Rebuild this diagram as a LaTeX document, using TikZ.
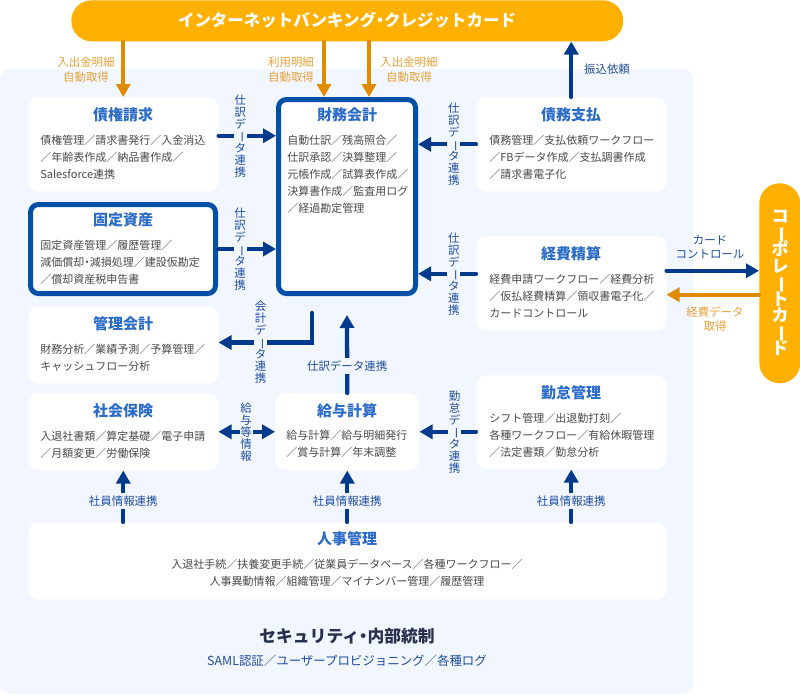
\documentclass[tikz,border=0pt]{standalone}
\usepackage{fontspec}
\setmainfont{Noto Sans CJK JP}
\usetikzlibrary{arrows.meta}
\definecolor{panelbg}{HTML}{F2F6FE}
\definecolor{hardorange}{HTML}{FFB000}
\definecolor{darkorange}{HTML}{DF8C00}
\definecolor{softorange}{HTML}{E6A23C}
\definecolor{flowblue}{HTML}{003A8C}
\definecolor{labelblue}{HTML}{1E4FA0}
\definecolor{titleblue}{HTML}{2A6CC8}
\definecolor{framedblue}{HTML}{0050A8}
\definecolor{bodygray}{HTML}{4A4A4A}
\definecolor{headdark}{HTML}{2A3050}
\newcommand{\vbar}{\smash{\raisebox{.38em}{\rotatebox[origin=c]{-90}{\raisebox{-.38em}{ー}}}}}
\newcommand{\dotmid}{\kern-.25em・\kern-.25em}
\tikzset{
  every node/.style={inner sep=0pt},
  card/.style={fill=white,rounded corners=7.5pt,anchor=north west,minimum width=142.5pt},
  framed/.style={draw=framedblue,line width=3.75pt,fill=white,rounded corners=6pt,anchor=north west},
  pill/.style={fill=hardorange,rounded corners=15.3pt},
  head/.style={font=\bfseries\fontsize{11.25}{13}\selectfont,text=titleblue},
  body/.style={font=\fontsize{8.25}{12.75}\selectfont,text=bodygray,align=left,anchor=west},
  vlabel/.style={font=\fontsize{8.6}{9}\selectfont,text=labelblue,align=center,fill=panelbg,minimum width=9.75pt},
  hlabel/.style={font=\fontsize{8.6}{11}\selectfont,text=labelblue,align=center,fill=panelbg,minimum height=12pt},
  olabel/.style={font=\fontsize{8.6}{11}\selectfont,text=softorange,align=center},
  flow/.style={draw=flowblue,line width=3.2pt,line cap=round,-{Triangle[length=9.75pt,width=10.5pt]}},
  twoway/.style={flow,{Triangle[length=9.75pt,width=10.5pt]}-{Triangle[length=9.75pt,width=10.5pt]}},
  oflow/.style={flow,draw=darkorange},
}
\begin{document}
\begin{tikzpicture}[x=0.75pt,y=-0.75pt]
  \useasboundingbox (0,0) rectangle (800,694);
  % background
  \fill[panelbg,rounded corners=7.5pt] (0,69) rectangle (693,694);
  \node[pill,minimum width=414pt,minimum height=30.75pt,anchor=north west] (bank) at (71,0) {};
  \node[pill,minimum width=30.75pt,minimum height=150pt,anchor=north west] (corp) at (759,183) {};
  \node[font=\bfseries\fontsize{12.35}{15}\selectfont,text=white] (bankT) at (347,20) {インターネットバンキング\dotmid クレジットカード};
  \node[font=\bfseries\fontsize{12.75}{12.4}\selectfont,text=white,align=center] (corpT) at (780,283) {コ\\\vbar\\ポ\\レ\\\vbar\\ト\\カ\\\vbar\\ド};
  % cards, left
  \node[card,minimum height=70.5pt] (saiken) at (28,97) {};
  \node[head] (saikenT) at (123,115) {債権請求};
  \node[body] (saikenB) at (40,157) {債権管理／請求書発行／入金消込\\／年齢表作成／納品書作成／\\Salesforce連携};
  \node[framed,minimum width=138.75pt,minimum height=66.75pt] (kotei) at (28,202) {};
  \node[head] (koteiT) at (123,220) {固定資産};
  \node[body] (koteiB) at (40,262) {固定資産管理／履歴管理／\\減価償却\dotmid 減損処理／建設仮勘定\\／償却資産税申告書};
  \node[card,minimum height=57.75pt] (kanri) at (28,306) {};
  \node[head] (kanriT) at (123,324) {管理会計};
  \node[body] (kanriB) at (40,357.5) {財務分析／業績予測／予算管理／\\キャッシュフロー分析};
  \node[card,minimum height=57.75pt] (shakai) at (28,393) {};
  \node[head] (shakaiT) at (123,411) {社会保険};
  \node[body] (shakaiB) at (40,444.5) {入退社書類／算定基礎／電子申請\\／月額変更／労働保険};
  % cards, middle
  \node[framed,minimum width=102.75pt,minimum height=145.5pt] (zaimu) at (276,97) {};
  \node[head] (zaimuT) at (347,115) {財務会計};
  \node[body] (zaimuB) at (287,174) {自動仕訳／残高照合／\\仕訳承認／決算整理／\\元帳作成／試算表作成／\\決算書作成／監査用ログ\\／経過勘定管理};
  \node[card,minimum width=108pt,minimum height=57.75pt] (kyuyo) at (275,393) {};
  \node[head] (kyuyoT) at (347,411) {給与計算};
  \node[body] (kyuyoB) at (286,443.5) {給与計算／給与明細発行\\／賞与計算／年末調整};
  % cards, right
  \node[card,minimum height=70.5pt] (saimu) at (476,97) {};
  \node[head] (saimuT) at (571,115) {債務支払};
  \node[body] (saimuB) at (489,157) {債務管理／支払依頼ワークフロー\\／FBデータ作成／支払調書作成\\／請求書電子化};
  \node[card,minimum height=70.5pt] (keihi) at (476,236) {};
  \node[head] (keihiT) at (571,254) {経費精算};
  \node[body] (keihiB) at (489,296) {経費申請ワークフロー／経費分析\\／仮払経費精算／領収書電子化／\\カードコントロール};
  \node[card,minimum height=70.5pt] (kintai) at (476,375) {};
  \node[head] (kintaiT) at (571,393) {勤怠管理};
  \node[body] (kintaiB) at (489,435) {シフト管理／出退勤打刻／\\各種ワークフロー／有給休暇管理\\／法定書類／勤怠分析};
  % bottom
  \node[card,minimum width=478.5pt,minimum height=57.75pt] (jinji) at (28,522) {};
  \node[head] (jinjiT) at (347,539) {人事管理};
  \node[body,align=center,anchor=center] (jinjiB) at (347,572.5) {入退社手続／扶養変更手続／従業員データベース／各種ワークフロー／\\人事異動情報／組織管理／マイナンバー管理／履歴管理};
  \node[font=\bfseries\fontsize{12.6}{15}\selectfont,text=headdark] (secT) at (347,636) {セキュリティ\dotmid 内部統制};
  \node[font=\fontsize{9.33}{11}\selectfont,text=labelblue] (secB) at (347,661) {SAML認証／ユーザープロビジョニング／各種ログ};
  % orange arrows
  \coordinate (zaimuL) at ([xshift=-17.25pt]zaimu.north);
  \coordinate (zaimuR) at ([xshift=16.5pt]zaimu.north);
  \draw[oflow] (saiken.north |- bank.south) -- (saiken.north);
  \draw[oflow] (zaimuL |- bank.south) -- (zaimuL);
  \draw[oflow] (zaimuR |- bank.south) -- (zaimuR);
  \draw[oflow] ([yshift=-8.6pt]corp.west) coordinate (p1) -- (p1 -| keihi.east);
  \node[olabel] (inL) at (86,69.5) {入出金明細\\自動取得};
  \node[olabel] (useL) at (291,69.5) {利用明細\\自動取得};
  \node[olabel] (inR) at (409,69.5) {入出金明細\\自動取得};
  \node[olabel] (expL) at (715,319) {経費データ\\取得};
  % blue arrows
  \draw[flow] (saimu.north) -- (saimu.north |- bank.south);
  \node[font=\fontsize{8.6}{11}\selectfont,text=labelblue] (furiL) at (607,69) {振込依頼};
  \draw[flow] ([yshift=6.4pt]saiken.east) coordinate (p2) -- node[vlabel,pos=.38] (l2) {仕\\訳\\デ\\\vbar\\タ\\連\\携} (p2 -| zaimu.west);
  \draw[flow] (kotei.east) coordinate (p3) -- node[vlabel,pos=.38] (l3) {仕\\訳\\デ\\\vbar\\タ\\連\\携} (p3 -| zaimu.west);
  \draw[flow] (saimu.west) coordinate (p4) -- node[vlabel,pos=.38] (l4) {仕\\訳\\デ\\\vbar\\タ\\連\\携} (p4 -| zaimu.east);
  \draw[flow] ([yshift=7.1pt]keihi.west) coordinate (p5) -- node[vlabel,pos=.38] (l5) {仕\\訳\\デ\\\vbar\\タ\\連\\携} (p5 -| zaimu.east);
  \draw[flow] (kintai.west |- kyuyo.east) -- node[vlabel,pos=.38] (l6) {勤\\怠\\デ\\\vbar\\タ\\連\\携} (kyuyo.east);
  % from the ledger down to management accounting
  \coordinate (kanriIn) at (312,313);
  \draw[flow] (kanriIn) -- ++(0,29.5) coordinate (p7) -- node[vlabel,pos=.55] (l7) {会\\計\\デ\\\vbar\\タ\\連\\携} (p7 -| kanri.east);
  % payroll
  \coordinate (zaimuIn) at (347,315);
  \draw[flow] (kyuyo.north) -- node[hlabel,pos=.34] (l8) {仕訳データ連携} (zaimuIn);
  \draw[twoway] (shakai.east) -- node[vlabel,pos=.49] (l9) {給\\与\\等\\情\\報} (kyuyo.west);
  % personnel
  \foreach \target/\n in {shakai/1,kyuyo/2,kintai/3} {%
    \draw[flow] (jinji.north -| \target.south) -- node[hlabel,pos=.4] (staff\n) {社員情報連携} (\target.south);
  }
  % corporate card
  \draw[flow] ([yshift=9.4pt]keihi.east) coordinate (p10) -- (p10 -| corp.west);
  \node[font=\fontsize{8.6}{11}\selectfont,text=labelblue,align=center] (cardL) at (710,247) {カード\\コントロール};
\end{tikzpicture}
\end{document}
